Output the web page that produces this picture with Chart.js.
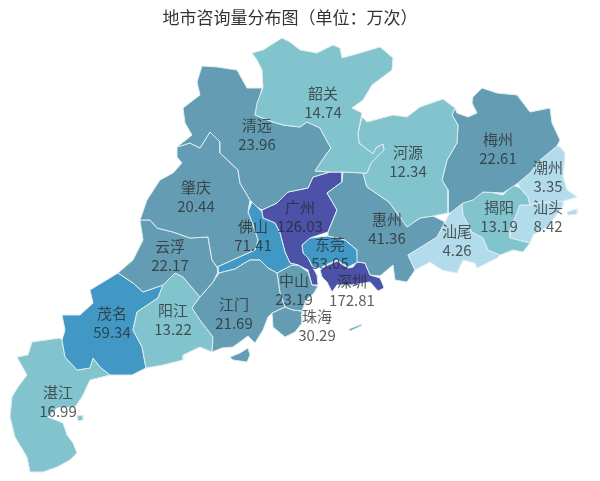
<!DOCTYPE html>
<html><head><meta charset="utf-8">
<style>html,body{margin:0;padding:0;background:#fff}canvas{display:block}</style>
<script src="https://cdn.jsdelivr.net/npm/chart.js@4/dist/chart.umd.min.js"></script>
</head><body><canvas id="c" width="600" height="481" style="width:600px;height:481px"></canvas>
<script>
const cityNames=["韶关","清远","肇庆","云浮","河源","梅州","潮州","揭阳","汕头","汕尾","惠州","江门","阳江","茂名","湛江","佛山","中山","珠海","广州","东莞","深圳"];
const cityValues=[14.74,23.96,20.44,22.17,12.34,22.61,3.35,13.19,8.42,4.26,41.36,21.69,13.22,59.34,16.99,71.41,23.19,30.29,126.03,53.05,172.81];
const binLimits=[10,20,50,100,Infinity];
const binColors=["#b2dbeb","#82c4ce","#649db3","#4198c5","#4c52a8"];
const titleText="地市咨询量分布图（单位：万次）";
// Outlines of each city on the map's own plane (x, y pairs per ring)
const outlines={
"韶关":[[252,53,263,50,282,38,290,42,300,50,317,53,333,45,340,48,342,58,360,53,380,47,393,58,392,70,372,85,363,100,352,108,362,113,358,133,359,143,373,154,376,148,383,144,384,150,378,156,371,163,367,173,363,173,343,172,330,172,315,171,325,156,331,148,328,143,320,128,307,122,300,127,283,125,273,122,255,115,257,103,263,88,262,70,257,60]],
"清远":[[202,66,217,67,237,70,247,88,262,88,255,115,273,122,283,125,300,127,307,122,320,128,328,143,331,148,325,156,315,171,330,172,313,177,308,188,288,192,277,203,262,210,257,207,252,202,250,200,240,183,238,170,220,153,220,142,210,132,200,148,190,143,177,147,192,135,185,123,183,108,200,95,197,82]],
"肇庆":[[177,147,190,143,200,148,210,132,220,142,220,153,238,170,240,183,250,200,248,212,253,225,258,240,255,250,237,258,217,267,212,260,208,237,190,238,173,232,157,228,150,220,140,220,147,200,160,180,173,173,182,163,177,157]],
"云浮":[[140,220,150,220,157,228,173,232,190,238,208,237,212,260,217,267,218,272,213,282,200,297,183,277,175,273,163,285,143,292,133,283,118,273,133,260,143,240]],
"河源":[[362,117,367,122,393,115,407,117,420,107,443,99,455,108,452,115,458,125,457,143,447,160,442,180,448,190,448,213,433,216,420,218,407,227,400,217,389,202,367,187,363,173,367,173,371,163,378,156,384,150,383,144,376,148,373,154,359,143,358,133]],
"梅州":[[473,97,482,88,497,93,517,95,530,112,550,108,552,123,560,140,557,146,540,160,530,173,518,183,503,193,483,192,473,200,463,203,450,213,448,213,448,190,442,180,447,160,457,143,458,125,452,115,455,108,457,113,468,117,477,113,472,103]],
"潮州":[[560,147,565,153,563,177,567,190,577,197,563,201,535,203,530,205,528,197,520,188,518,183,530,173,540,160,557,146]],
"揭阳":[[462,203,477,193,490,192,503,195,513,185,520,188,528,197,530,205,520,205,510,230,510,238,530,243,523,252,513,250,500,255,488,250,483,238,472,232,463,215]],
"汕头":[[530,205,535,203,563,201,563,206,547,227,533,235,530,243,510,238,510,230,520,205],[567,212,577,209,577,214,568,215]],
"汕尾":[[408,255,437,237,450,213,462,203,463,215,472,232,483,238,488,250,500,255,497,258,477,268,475,263,463,260,457,273,442,270,430,262,415,270]],
"惠州":[[343,172,363,173,367,187,389,202,400,217,407,227,420,218,433,216,445,222,437,238,408,255,415,270,407,282,395,280,393,265,380,276,370,275,365,263,357,262,357,250,345,240,328,236,328,232,337,210,327,193,342,182]],
"江门":[[219,273,235,269,243,264,250,260,260,260,268,268,277,273,280,293,285,307,272,313,268,317,263,330,255,343,248,336,233,347,222,348,212,352,213,337,200,320,192,308,200,297,213,282],[230,357,240,353,248,348,250,355,247,362,233,360],[220,274,226,272,227,278,222,282,218,280]],
"阳江":[[175,273,183,277,200,297,192,308,200,320,213,337,212,352,200,347,183,355,183,360,163,365,146,368,142,347,133,330,137,312,158,298,163,285]],
"茂名":[[90,290,118,273,133,283,143,292,163,285,158,298,137,312,133,330,142,347,146,368,132,375,110,375,100,367,93,358,90,368,77,370,65,357,62,340,65,330,62,315,80,315,93,303]],
"湛江":[[32,342,60,338,62,340,65,357,77,370,90,368,93,358,100,367,110,375,90,380,82,397,75,407,57,408,48,417,63,423,67,435,73,443,77,453,70,460,57,467,43,472,30,472,27,457,15,437,10,417,12,397,18,387,27,375,17,357,28,355],[77,416,83,415,83,420,78,421]],
"佛山":[[252,202,262,212,263,218,275,223,280,233,285,252,290,263,298,265,292,265,277,273,268,268,260,260,250,260,243,264,235,269,219,273,218,272,217,267,237,258,255,250,258,240,253,225,248,212]],
"中山":[[277,273,292,265,298,265,308,272,312,285,318,286,314,293,306,300,302,311,293,310,285,307,280,293]],
"珠海":[[285,307,293,310,302,311,302,323,295,332,285,337,273,327,272,313],[349,329,362,324,361,326,350,331]],
"广州":[[342,172,342,182,327,193,337,210,328,232,310,238,302,245,303,253,308,258,313,268,317,275,318,285,312,285,308,270,298,265,290,263,285,252,280,233,275,223,263,218,262,212,262,210,277,203,288,192,308,188,313,177,330,172]],
"东莞":[[302,245,310,238,328,236,345,240,357,250,358,262,352,265,348,267,337,260,328,264,320,268,313,268,308,258,303,253]],
"深圳":[[320,270,328,265,337,261,348,268,353,267,357,262,365,263,370,275,380,278,383,285,384,288,378,291,370,282,352,285,337,285,332,292,327,282,322,277]]
};
const labelAnchors={"韶关":[323,103],"清远":[257,135],"肇庆":[196,197],"云浮":[170,256],"河源":[408,162],"梅州":[498,149],"潮州":[548,177],"揭阳":[499,217],"汕头":[548,217],"汕尾":[457,241],"惠州":[387,229],"江门":[234,314],"阳江":[173,320],"茂名":[112,323],"湛江":[58,402],"佛山":[253,236],"中山":[294,290],"珠海":[317,326],"广州":[300,217],"东莞":[330,254],"深圳":[352,291]};

const colorFor=v=>binColors[binLimits.findIndex(l=>v<l)];
const datasets=[];
cityNames.forEach((name,i)=>{
  outlines[name].forEach(ring=>{
    const pts=[];
    for(let k=0;k<ring.length;k+=2)pts.push({x:ring[k],y:ring[k+1]});
    pts.push(pts[0]);
    datasets.push({label:name,data:pts,showLine:true,fill:false,tension:0,pointRadius:0,pointHoverRadius:0,
      backgroundColor:colorFor(cityValues[i]),borderColor:'#dcecf2',borderWidth:1,borderJoinStyle:'round'});
  });
});
// Fill each ring along the points the library has placed on its scales
const ringFill={id:'ringFill',beforeDatasetDraw(chart,args){
  const meta=chart.getDatasetMeta(args.index);
  const {ctx}=chart;
  ctx.save();
  ctx.beginPath();
  meta.data.forEach((p,i)=>{i?ctx.lineTo(p.x,p.y):ctx.moveTo(p.x,p.y);});
  ctx.closePath();
  ctx.fillStyle=chart.data.datasets[args.index].backgroundColor;
  ctx.fill();
  ctx.restore();
}};
const cityLabels={id:'cityLabels',afterDatasetsDraw(chart){
  const {ctx,scales:{x,y}}=chart;
  ctx.save();
  ctx.font='15px "Noto Sans CJK SC"';
  ctx.textAlign='center';ctx.textBaseline='middle';
  ctx.fillStyle='rgba(40,40,40,0.75)';
  cityNames.forEach((name,i)=>{
    const [ax,ay]=labelAnchors[name];
    const px=x.getPixelForValue(ax),py=y.getPixelForValue(ay);
    ctx.fillText(name,px,py-9.5);
    ctx.fillText(cityValues[i].toFixed(2),px,py+9.5);
  });
  ctx.restore();
}};
new Chart(document.getElementById('c'),{
  type:'scatter',
  data:{datasets},
  plugins:[ringFill,cityLabels],
  options:{
    responsive:false,animation:false,
    layout:{padding:{left:0,right:20,top:0,bottom:0}},
    events:[],
    scales:{
      x:{type:'linear',display:false,min:0,max:580},
      y:{type:'linear',display:false,min:30,max:481,reverse:true}
    },
    plugins:{
      legend:{display:false},tooltip:{enabled:false},
      title:{display:true,text:titleText,color:'#333',align:'center',
        font:{family:'"Noto Sans CJK SC"',size:17,weight:'normal',lineHeight:'20px'},
        padding:{top:8,bottom:2}}
    }
  }
});
</script></body></html>
